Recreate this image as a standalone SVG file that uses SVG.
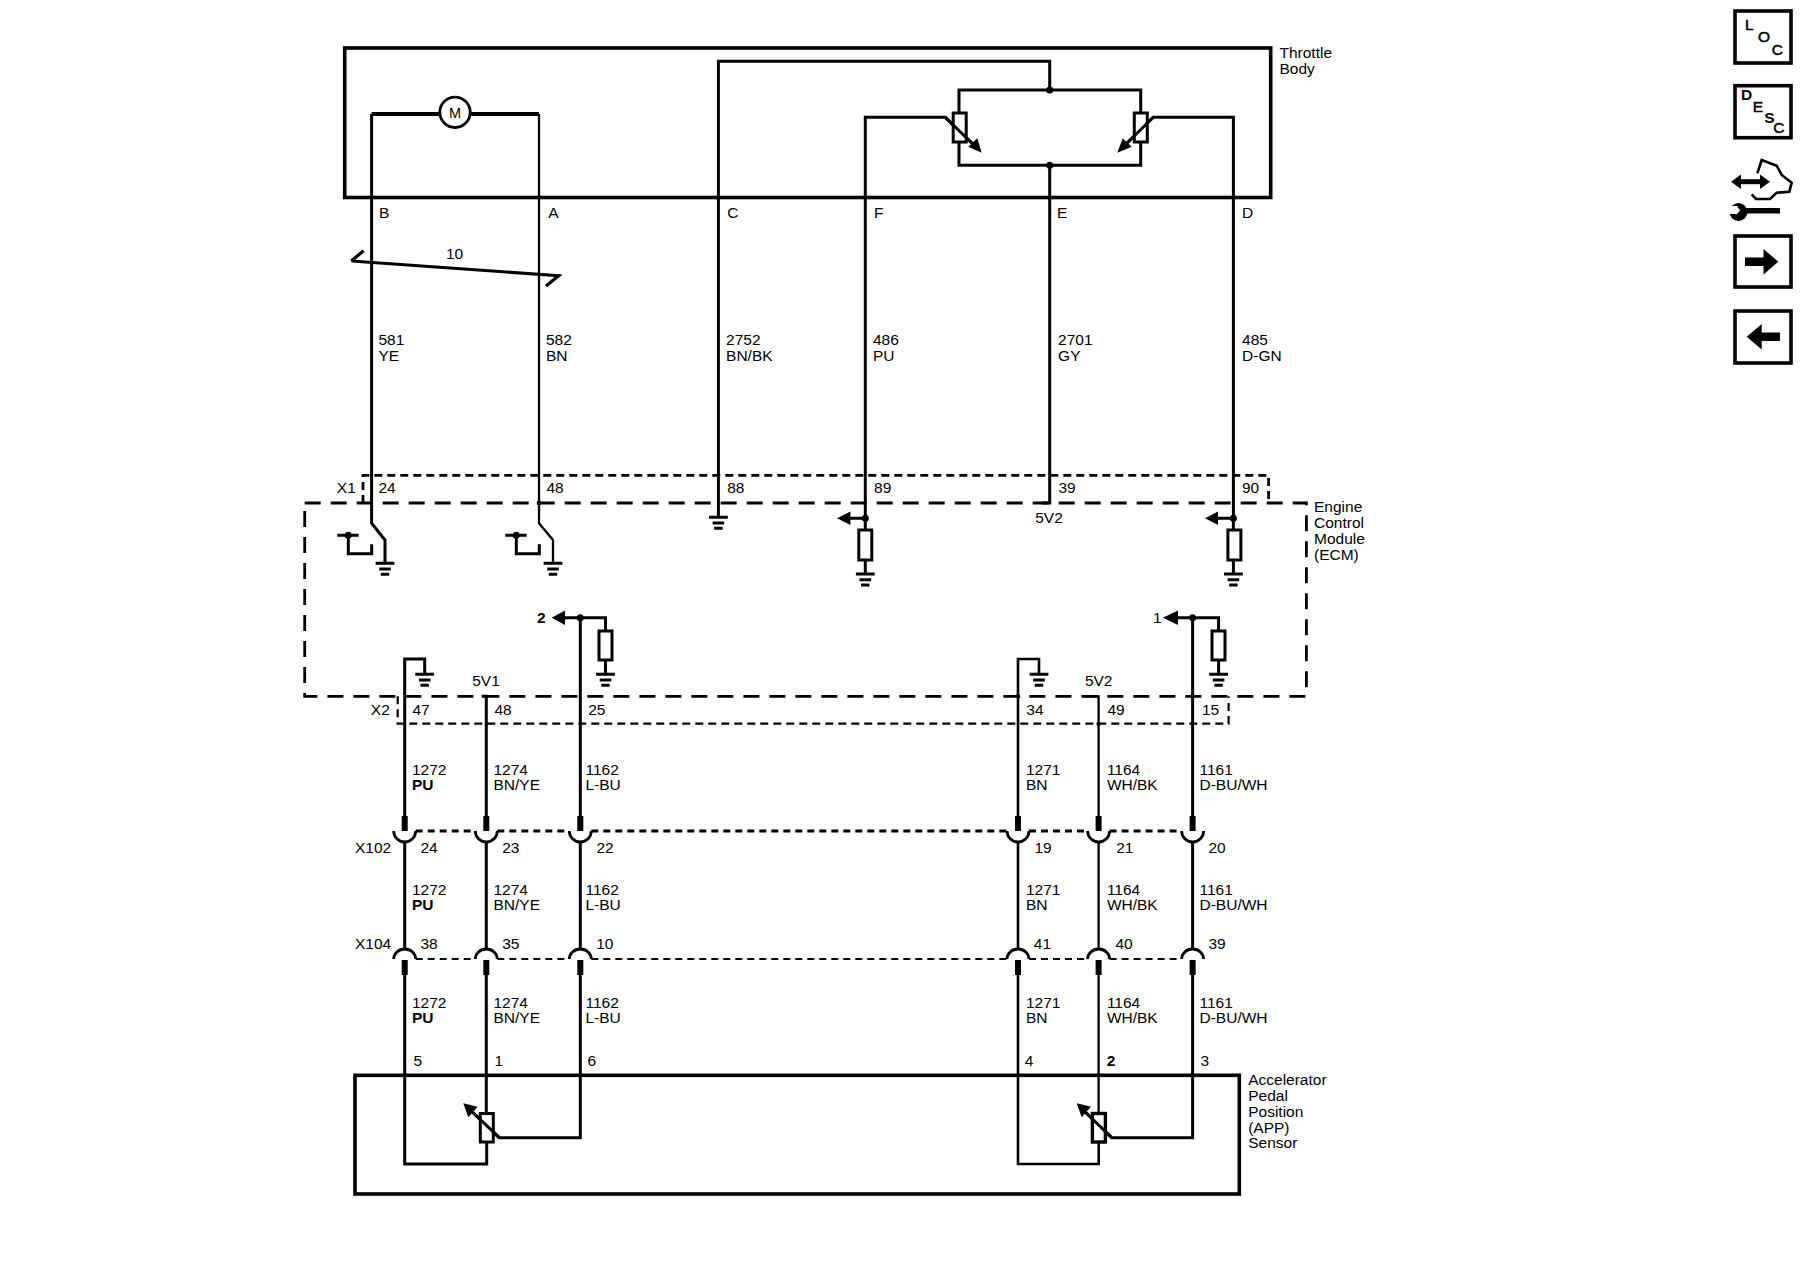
<svg xmlns="http://www.w3.org/2000/svg" xmlns:xlink="http://www.w3.org/1999/xlink" width="1800" height="1280" viewBox="0 0 1800 1280">
<style>
text{font-family:"Liberation Sans",Arial,sans-serif;font-size:15.5px;fill:#000}
.box{fill:none;stroke:#000;stroke-width:3.6}
.w{fill:none;stroke:#000;stroke-width:3;stroke-linejoin:miter}
.t{fill:none;stroke:#000;stroke-width:2.3}
.res{fill:#fff;stroke:#000;stroke-width:3}
.big{fill:none;stroke:#000;stroke-width:2.8;stroke-dasharray:16 10}
.small{fill:none;stroke:#000;stroke-width:2.8;stroke-dasharray:8 5}
.conn{fill:none;stroke:#000;stroke-width:2.8;stroke-dasharray:7 5}
.cup{fill:none;stroke:#000;stroke-width:2.8}
.k{fill:#000;stroke:none}
.b{font-weight:bold}
.ic{stroke:#000;stroke-width:.5}
</style>
<defs>
<g id="gnd"><path d="M-9.4 0H9.4M-5.8 5.7H5.8M-4.2 11H4.2" fill="none" stroke="#000" stroke-width="3"/></g>
<circle id="dot" r="3.5" fill="#000"/>
<path id="pinUp" d="M-3 0H3V15H-3Z" fill="#000"/>
<path id="cupDown" d="M-11 831A11 11 0 0 0 11 831" class="cup"/>
<path id="cupUp" d="M-11 959A11 10 0 0 1 11 959" class="cup"/>
</defs>
<rect width="1800" height="1280" fill="#fff"/>

<g id="throttle-body">
<rect class="box" x="344.7" y="48" width="926" height="149.5"/>
<text x="1279.5" y="57.5">Throttle</text>
<text x="1279.5" y="73.7">Body</text>
</g>

<g id="ecm">
<path class="big" d="M304.7 503H1306.4V696.3H304.7Z"/>
<text x="1314" y="512">Engine</text>
<text x="1314" y="528">Control</text>
<text x="1314" y="544">Module</text>
<text x="1314" y="560">(ECM)</text>
</g>

<g id="x1">
<path class="small" d="M363 503V475.3H1268.6V503"/>
<text x="336.8" y="493">X1</text>
<text x="378.5" y="493">24</text>
<text x="546.5" y="493">48</text>
<text x="727.2" y="493">88</text>
<text x="874.1" y="493">89</text>
<text x="1058.5" y="493">39</text>
<text x="1242" y="493">90</text>
</g>

<g id="x2">
<path class="small" style="stroke-width:2.2" d="M397.7 696.3V723.7H1228.6V696.3"/>
<text x="370.8" y="715">X2</text>
<text x="412.5" y="715">47</text>
<text x="494.5" y="715">48</text>
<text x="588.2" y="715">25</text>
<text x="1026.3" y="715">34</text>
<text x="1107.4" y="715">49</text>
<text x="1202" y="715">15</text>
</g>

<g id="connectors">
<path class="w" d="M371.6 114V523.3L385 540V563"/>
<path class="t" d="M539 114V523.3L553 540V563"/>
<path class="w" d="M718.4 197.5V61.3H1049.7V90"/>
<path class="w" d="M718.4 197.5V517"/>
<path class="w" d="M865.3 517V117.3H945.3L978 149"/>
<path class="w" d="M1049.7 165.3V503H1042"/>
<path class="w" d="M1233.4 517V117.3H1153.3L1121 149"/>
<path class="w" d="M959 112.7V90H1140.7V112.7M959 142V165.3H1140.7V142"/>
<path class="w" style="stroke-width:4" d="M371.6 114H440M470 114H539"/>
<path class="w" style="stroke-width:3.2" d="M351.4 261L558.6 275.7L546 286M351.4 261L363.5 250.7"/>
<path class="w" d="M337.3 535.3H358.7M348.3 535.3V553.7H371.7V544.3M505.3 535.3H526.7M516.3 535.3V553.7H539.3V544.3"/>
<path class="w" d="M865.3 518.3H848M865.3 518.3V530M865.3 560V574"/>
<path class="w" d="M1233.4 518.3H1216M1233.4 518.3V530M1233.4 560V574"/>
<path class="w" d="M404.7 816V659H424.7V674M486.3 816V696.3H481.7"/>
<path class="w" d="M580.3 816V617.7H563M580.3 617.7H605.5V631M605.5 660V674"/>
<path class="t" style="stroke-width:2.6" d="M1018 816V659H1039V674"/>
<path class="t" d="M1098.6 816V696.3H1085.4"/>
<path class="w" d="M1192.6 816V617.7H1176M1192.6 617.7H1218.6V631M1218.6 660V674"/>
<path class="w" d="M404.7 841V950M486.3 841V950M580.3 841V950"/>
<path class="t" style="stroke-width:2.6" d="M1018 841V950"/>
<path class="t" d="M1098.6 841V950"/>
<path class="w" d="M1192.6 841V950"/>
<path class="w" d="M404.7 975V1164H486.7V1142M486.3 975V1113"/>
<path class="w" d="M580.3 975V1137.7H499.3L466 1106"/>
<path class="t" style="stroke-width:2.6" d="M1018 975V1164H1098.7V1142"/>
<path class="t" d="M1098.6 975V1113"/>
<path class="w" d="M1192.6 975V1137.7H1111.7L1079 1106"/>
<use xlink:href="#dot" href="#dot" x="1049.7" y="90"/>
<use xlink:href="#dot" href="#dot" x="1049.7" y="165.3"/>
<use xlink:href="#dot" href="#dot" x="348.3" y="535.3"/>
<use xlink:href="#dot" href="#dot" x="516.3" y="535.3"/>
<use xlink:href="#dot" href="#dot" x="865.3" y="518.3"/>
<use xlink:href="#dot" href="#dot" x="1233.4" y="518.3"/>
<use xlink:href="#dot" href="#dot" x="580.3" y="617.7"/>
<use xlink:href="#dot" href="#dot" x="1192.6" y="617.7"/>
<circle r="2.4" cx="539" cy="503"/>
<circle r="2.2" cx="1018" cy="696.3"/>
<circle r="2.2" cx="1192.6" cy="696.3"/>
<circle r="2.2" cx="1098.6" cy="723.7"/>
<path class="k" d="M837 518.3L850.4 511.5V525ZM1205 518.3L1218 511.5V525ZM551.7 617.7L565 610.5V625ZM1162.9 617.7L1178 610.5V625Z"/>
</g>

<g id="motor">
<circle cx="455" cy="112.3" r="15.2" fill="#fff" stroke="#000" stroke-width="2.8"/>
<text x="455" y="118" text-anchor="middle" style="font-size:14.5px">M</text>
</g>

<g id="throttle-sensors">
<rect class="res" x="953.2" y="113" width="13" height="29"/>
<rect class="res" x="1134.3" y="113" width="13" height="29"/>
<path class="w" d="M945.3 117.3L978 149M1153.3 117.3L1121 149"/>
<path class="k" d="M981.7 152.7L968.3 146.7L977.3 138.3ZM1117.3 152.7L1131.7 146.7L1122.7 138.3Z"/>
</g>

<g id="grounds">
<use xlink:href="#gnd" href="#gnd" x="385" y="563.3"/>
<use xlink:href="#gnd" href="#gnd" x="553" y="563.3"/>
<use xlink:href="#gnd" href="#gnd" x="718.4" y="517.3"/>
<use xlink:href="#gnd" href="#gnd" x="865.3" y="574"/>
<use xlink:href="#gnd" href="#gnd" x="1233.4" y="574"/>
<use xlink:href="#gnd" href="#gnd" x="424.7" y="674.3"/>
<use xlink:href="#gnd" href="#gnd" x="605.5" y="674.3"/>
<use xlink:href="#gnd" href="#gnd" x="1039" y="674.3"/>
<use xlink:href="#gnd" href="#gnd" x="1218.6" y="674.3"/>
</g>

<g id="ecm-resistors">
<rect class="res" x="858.8" y="530" width="13" height="30"/>
<rect class="res" x="1227.9" y="530" width="13" height="30"/>
<rect class="res" x="599" y="631" width="13" height="29"/>
<rect class="res" x="1212" y="631" width="13" height="29"/>
</g>

<g id="ecm-labels">
<text x="1035.2" y="523">5V2</text>
<text x="537" y="623.3" class="b">2</text>
<text x="1153" y="623.3">1</text>
<text x="472.2" y="686.4">5V1</text>
<text x="1084.9" y="686.4">5V2</text>
</g>

<g id="throttle-pins">
<text x="379" y="217.5">B</text>
<text x="548.3" y="217.5">A</text>
<text x="727.3" y="217.5">C</text>
<text x="873.9" y="217.5">F</text>
<text x="1057" y="217.5">E</text>
<text x="1242" y="217.5">D</text>
<text x="446" y="259">10</text>
</g>

<g id="wire-labels-top" transform="translate(-0.6,-0.5)">
<text x="379" y="345.7">581</text><text x="379" y="361">YE</text>
<text x="546.5" y="345.7">582</text><text x="546.5" y="361">BN</text>
<text x="726.7" y="345.7">2752</text><text x="726.7" y="361">BN/BK</text>
<text x="873.6" y="345.7">486</text><text x="873.6" y="361">PU</text>
<text x="1058.7" y="345.7">2701</text><text x="1058.7" y="361">GY</text>
<text x="1242.7" y="345.7">485</text><text x="1242.7" y="361">D-GN</text>
</g>

<g id="wire-labels-lower" transform="translate(-0.8,-0.5)">
<text x="412.7" y="775">1272</text><text x="412.7" y="790" class="b">PU</text>
<text x="494.3" y="775">1274</text><text x="494.3" y="790">BN/YE</text>
<text x="586.3" y="775">1162</text><text x="586.3" y="790">L-BU</text>
<text x="1026.7" y="775">1271</text><text x="1026.7" y="790">BN</text>
<text x="1107.7" y="775">1164</text><text x="1107.7" y="790">WH/BK</text>
<text x="1200.3" y="775">1161</text><text x="1200.3" y="790">D-BU/WH</text>
<text x="412.7" y="895">1272</text><text x="412.7" y="910" class="b">PU</text>
<text x="494.3" y="895">1274</text><text x="494.3" y="910">BN/YE</text>
<text x="586.3" y="895">1162</text><text x="586.3" y="910">L-BU</text>
<text x="1026.7" y="895">1271</text><text x="1026.7" y="910">BN</text>
<text x="1107.7" y="895">1164</text><text x="1107.7" y="910">WH/BK</text>
<text x="1200.3" y="895">1161</text><text x="1200.3" y="910">D-BU/WH</text>
<text x="412.7" y="1008">1272</text><text x="412.7" y="1023.3" class="b">PU</text>
<text x="494.3" y="1008">1274</text><text x="494.3" y="1023.3">BN/YE</text>
<text x="586.3" y="1008">1162</text><text x="586.3" y="1023.3">L-BU</text>
<text x="1026.7" y="1008">1271</text><text x="1026.7" y="1023.3">BN</text>
<text x="1107.7" y="1008">1164</text><text x="1107.7" y="1023.3">WH/BK</text>
<text x="1200.3" y="1008">1161</text><text x="1200.3" y="1023.3">D-BU/WH</text>
</g>

<g id="x102">
<path class="conn" d="M415.7 831H475M497.3 831H569.3M591.3 831H1007M1029 831H1087.6M1109.6 831H1181.6"/>
<use xlink:href="#cupDown" href="#cupDown" x="404.7"/><use xlink:href="#cupDown" href="#cupDown" x="486.3"/><use xlink:href="#cupDown" href="#cupDown" x="580.3"/>
<use xlink:href="#cupDown" href="#cupDown" x="1018"/><use xlink:href="#cupDown" href="#cupDown" x="1098.6"/><use xlink:href="#cupDown" href="#cupDown" x="1192.6"/>
<use xlink:href="#pinUp" href="#pinUp" x="404.7" y="816"/><use xlink:href="#pinUp" href="#pinUp" x="486.3" y="816"/><use xlink:href="#pinUp" href="#pinUp" x="580.3" y="816"/>
<use xlink:href="#pinUp" href="#pinUp" x="1018" y="816"/><use xlink:href="#pinUp" href="#pinUp" x="1098.6" y="816"/><use xlink:href="#pinUp" href="#pinUp" x="1192.6" y="816"/>
<text x="355" y="853">X102</text>
<text x="420.5" y="853">24</text><text x="502.2" y="853">23</text><text x="596.5" y="853">22</text>
<text x="1034.5" y="853">19</text><text x="1116.2" y="853">21</text><text x="1208.5" y="853">20</text>
</g>

<g id="x104">
<path class="conn" style="stroke-width:2.2" d="M415.7 959H475M497.3 959H569.3M591.3 959H1007M1029 959H1087.6M1109.6 959H1181.6"/>
<use xlink:href="#cupUp" href="#cupUp" x="404.7"/><use xlink:href="#cupUp" href="#cupUp" x="486.3"/><use xlink:href="#cupUp" href="#cupUp" x="580.3"/>
<use xlink:href="#cupUp" href="#cupUp" x="1018"/><use xlink:href="#cupUp" href="#cupUp" x="1098.6"/><use xlink:href="#cupUp" href="#cupUp" x="1192.6"/>
<use xlink:href="#pinUp" href="#pinUp" x="404.7" y="960"/><use xlink:href="#pinUp" href="#pinUp" x="486.3" y="960"/><use xlink:href="#pinUp" href="#pinUp" x="580.3" y="960"/>
<use xlink:href="#pinUp" href="#pinUp" x="1018" y="960"/><use xlink:href="#pinUp" href="#pinUp" x="1098.6" y="960"/><use xlink:href="#pinUp" href="#pinUp" x="1192.6" y="960"/>
<text x="355" y="949">X104</text>
<text x="420.5" y="949">38</text><text x="502.2" y="949">35</text><text x="596.2" y="949">10</text>
<text x="1033.8" y="949">41</text><text x="1115.5" y="949">40</text><text x="1208.5" y="949">39</text>
</g>

<g id="app-sensor">
<rect class="box" x="355" y="1075.3" width="884.3" height="118.7"/>
<rect class="res" x="480.3" y="1113.5" width="13" height="28.5"/>
<rect class="res" style="stroke-width:3.4" x="1092.4" y="1113.5" width="13" height="28.5"/>
<path class="w" d="M499.3 1137.7L466 1106M1111.7 1137.7L1079 1106"/>
<path class="k" d="M463.3 1103.3L477.7 1106.7L468.3 1117.3ZM1076.7 1103.3L1091 1106.7L1081.7 1117.3Z"/>
<text x="413.5" y="1066">5</text><text x="494.5" y="1066">1</text><text x="587.5" y="1066">6</text>
<text x="1024.8" y="1066">4</text><text x="1106.8" y="1066" class="b">2</text><text x="1200.5" y="1066">3</text>
<text x="1248.2" y="1085">Accelerator</text>
<text x="1248.2" y="1101">Pedal</text>
<text x="1248.2" y="1116.7">Position</text>
<text x="1248.2" y="1132.7">(APP)</text>
<text x="1248.2" y="1148.3">Sensor</text>
</g>

<g id="icon-loc">
<rect class="box" x="1735" y="11" width="56" height="52"/>
<text class="ic" x="1745" y="30">L</text><text class="ic" x="1758" y="42.3">O</text><text class="ic" x="1771.7" y="55">C</text>
</g>
<g id="icon-desc">
<rect class="box" x="1735" y="85.7" width="56" height="52"/>
<text class="b" x="1741" y="100">D</text><text class="ic" x="1752.7" y="112.3">E</text><text class="b" x="1764.3" y="123.3">S</text><text class="ic" x="1773.3" y="133.3">C</text>
</g>
<g id="icon-service">
<path d="M1736 181.7H1765" fill="none" stroke="#000" stroke-width="5"/>
<path class="k" d="M1731 181.7L1741 174.5V189ZM1770 181.7L1760 174.5V189Z"/>
<path d="M1757.3 173.3L1761.7 160L1776.7 165.7L1781.7 175L1791.7 182.7L1789.3 191.7L1776.7 192.7L1770 199H1756L1751.7 194.3" fill="none" stroke="#000" stroke-width="2.6"/>
<path d="M1743 210.7H1780" fill="none" stroke="#000" stroke-width="5.5"/>
<circle class="k" cx="1738.5" cy="212" r="9"/>
<path d="M1728 206H1737L1740 210.5L1737 214H1728Z" fill="#fff"/>
</g>
<g id="icon-next">
<rect class="box" x="1735" y="236" width="56" height="51"/>
<path class="k" d="M1745 257.5H1763.5V249L1778.3 261.7L1763.5 274.5V266H1745Z"/>
</g>
<g id="icon-prev">
<rect class="box" x="1735" y="311" width="56" height="52"/>
<path class="k" d="M1780 332.5H1761.7V324L1746.7 336.7L1761.7 349.5V341H1780Z"/>
</g>
</svg>
